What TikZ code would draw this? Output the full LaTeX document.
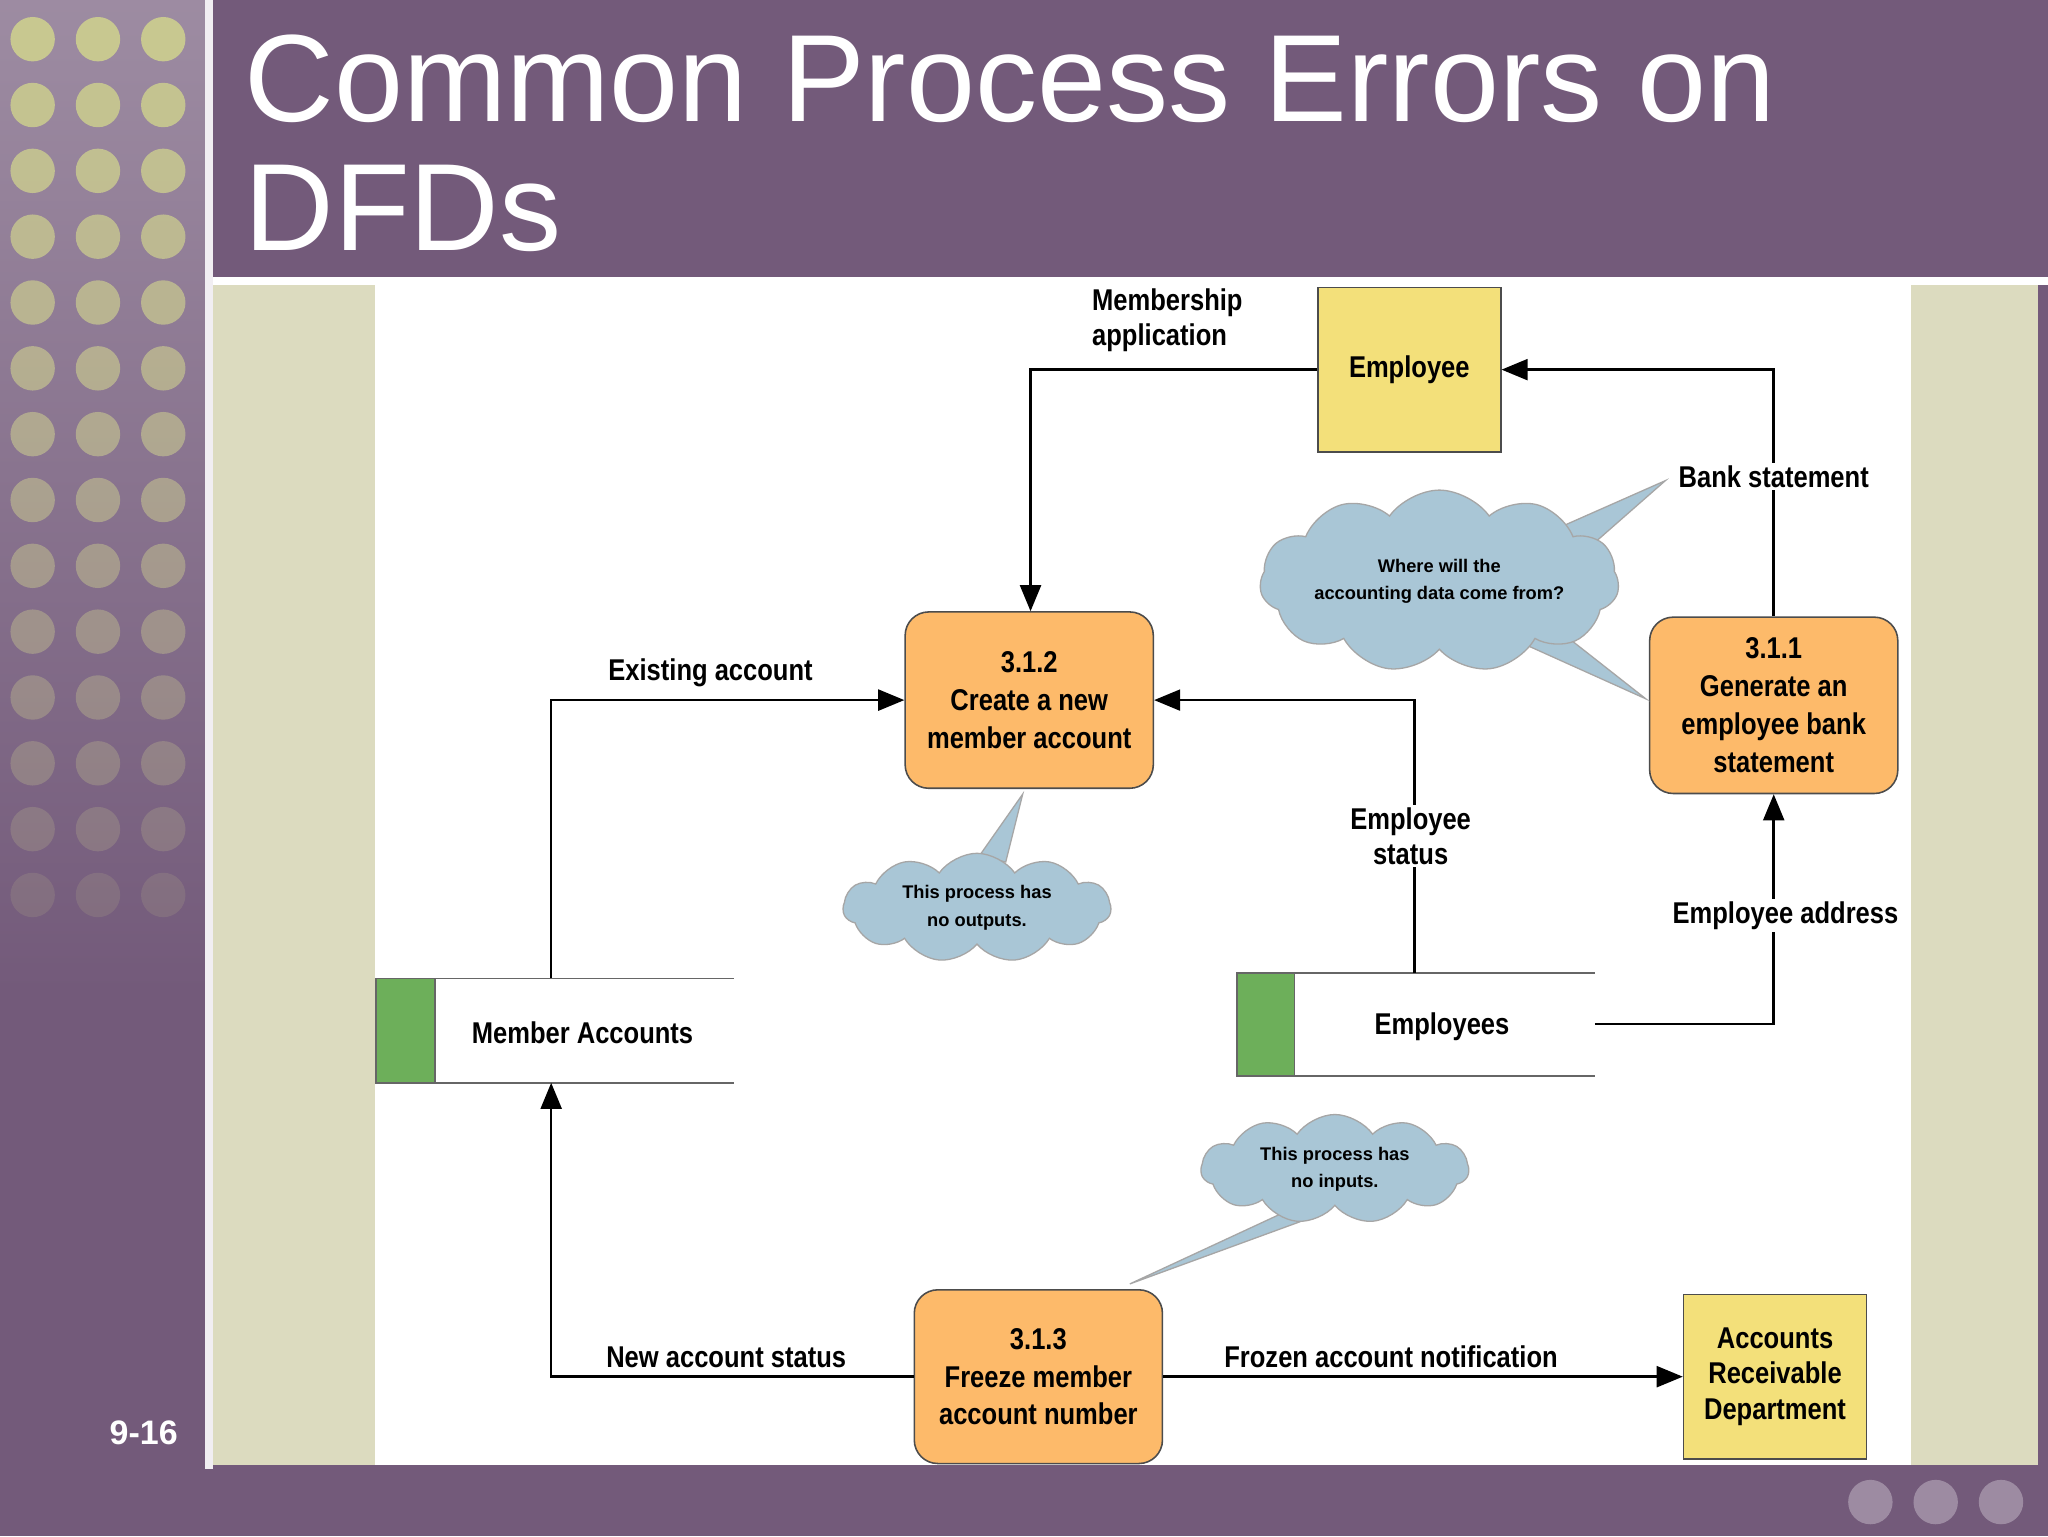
\documentclass[tikz,border=0pt]{standalone}
\usepackage{fontspec}
\setmainfont{Liberation Sans}
\newfontfamily\cond[FakeStretch=0.85]{Liberation Sans}
\usetikzlibrary{shapes.symbols,arrows.meta}
\definecolor{purp}{HTML}{735A7A}
\definecolor{beige}{HTML}{DCDBBF}
\definecolor{yel}{HTML}{F3E07A}
\definecolor{org}{HTML}{FDBA6A}
\definecolor{cl}{HTML}{A9C6D6}
\definecolor{grn}{HTML}{6DAF5A}
\definecolor{dot}{HTML}{C8C890}
\tikzset{
 lab/.style={font=\cond\bfseries\fontsize{23}{27}\selectfont, align=center, inner sep=2pt},
 ext/.style={draw=black!70, line width=1.2pt, fill=yel, font=\cond\bfseries\fontsize{23}{27}\selectfont, align=center},
 proc/.style={draw=black!70, line width=1.2pt, fill=org, rounded corners=18pt, font=\cond\bfseries\fontsize{23}{29}\selectfont, align=center, minimum width=190pt, minimum height=135pt},
 flow/.style={line width=2pt, -{Triangle[length=20pt,width=16pt]}},
 cloudn/.style={cloud, cloud puffs=11, cloud puff arc=110, aspect=2.6, fill=cl, draw=gray!70, line width=1pt, align=center, font=\bfseries\fontsize{14}{21}\selectfont, inner sep=0pt},
 tail/.style={fill=cl, draw=gray!70, line width=1pt},
}
\begin{document}
\begin{tikzpicture}[x=1pt,y=-1pt]
\fill[purp] (0,0) rectangle (1568,1176);
\useasboundingbox (0,0) rectangle (1568,1176);
\shade[top color=purp!70!white, bottom color=purp] (0,0) rectangle (157,760);
\foreach \r in {0,...,13}{
  \pgfmathsetmacro{\op}{1-\r*0.065}
  \foreach \c in {25,75,125}{
    \fill[dot, opacity=\op] (\c,{30+\r*50.4}) circle (17pt);}}
\fill[white!90!purp] (157,0) rectangle (163,1125);
\fill[white] (163,212) rectangle (1568,218);
\fill[beige] (163,218) rectangle (1560,1122);
\fill[white] (287,218) rectangle (1463,1122);
\foreach \c in {1432,1482,1532}{\fill[white,opacity=0.3] (\c,1150) circle (17pt);}
\node[anchor=base west, text=white, font=\fontsize{95}{100}\selectfont, inner sep=0] (t1) at (187,93) {Common Process Errors on};
\node[anchor=base west, text=white, font=\fontsize{95}{100}\selectfont, inner sep=0] (t2) at (187,192) {DFDs};
\node[text=white, font=\bfseries\fontsize{26}{30}\selectfont] (num) at (110,1097) {9-16};

% entities
\node[ext, minimum width=140pt, minimum height=126pt] (emp) at (1079,283) {Employee};
\node[ext, minimum width=140pt, minimum height=126pt] (ard) at (1359,1054) {Accounts\\Receivable\\Department};
% processes
\node[proc] (p312) at (788,536) {3.1.2\\Create a new\\member account};
\node[proc] (p311) at (1358,540) {3.1.1\\Generate an\\employee bank\\statement};
\node[proc, minimum height=133pt] (p313) at (795,1054) {3.1.3\\Freeze member\\account number};
% stores
\fill[grn] (288,749) rectangle (333,829);
\draw[black!60, line width=1.2pt] (288,749) rectangle (333,829);
\draw[black!60, line width=1.2pt] (333,749) -- (562,749) (333,829) -- (562,829);
\node[lab] (ma) at (446,791) {Member Accounts};
\coordinate (matop) at (422,749);
\coordinate (mabot) at (422,829);
\fill[grn] (947,745) rectangle (991,824);
\draw[black!60, line width=1.2pt] (947,745) rectangle (991,824);
\draw[black!60, line width=1.2pt] (991,745) -- (1221,745) (991,824) -- (1221,824);
\node[lab] (es) at (1104,786) {Employees};
\coordinate (estop) at (1083,745);
\coordinate (esr) at (1221,784);

% flows
\draw[flow] (emp.west) -- (789,283) -- (789,468);
\node[lab, align=left, anchor=west] (l1) at (834,245) {Membership\\application};
\draw[flow] (p311.north) -- (1358,283) -- (emp.east);
\node[lab, fill=white] (l2) at (1358,365) {Bank statement};
\draw[flow] (matop) -- (422,536) -- (p312.west);
\node[lab] (l3) at (544,515) {Existing account};
\draw[flow] (estop) -- (1083,536) -- (p312.east);
\node[lab, fill=white] (l4) at (1080,640) {Employee\\status};
\draw[flow] (esr) -- (1358,784) -- (p311.south);
\node[lab, fill=white] (l5) at (1367,701) {Employee address};
\draw[flow] (p313.west) -- (422,1054) -- (mabot);
\node[lab] (l6) at (556,1039) {New account status};
\draw[flow] (p313.east) -- (ard.west);
\node[lab] (l7) at (1065,1039) {Frozen account notification};

% clouds
\draw[tail] (1180,410) -- (1275,368) -- (1210,425) -- cycle;
\draw[tail] (1190,480) -- (1260,535) -- (1160,490) -- cycle;
\node[cloudn, minimum width=275pt, minimum height=100pt] (c1) at (1102,445) {Where will the\\accounting data come from?};
\draw[tail] (750,655) -- (783,608) -- (770,660) -- cycle;
\node[cloudn, minimum width=205pt, minimum height=80pt] (c2) at (748,695) {This process has\\no outputs.};
\draw[tail] (990,925) -- (865,983) -- (1010,930) -- cycle;
\node[cloudn, minimum width=205pt, minimum height=80pt] (c3) at (1022,895) {This process has\\no inputs.};
\end{tikzpicture}
\end{document}
